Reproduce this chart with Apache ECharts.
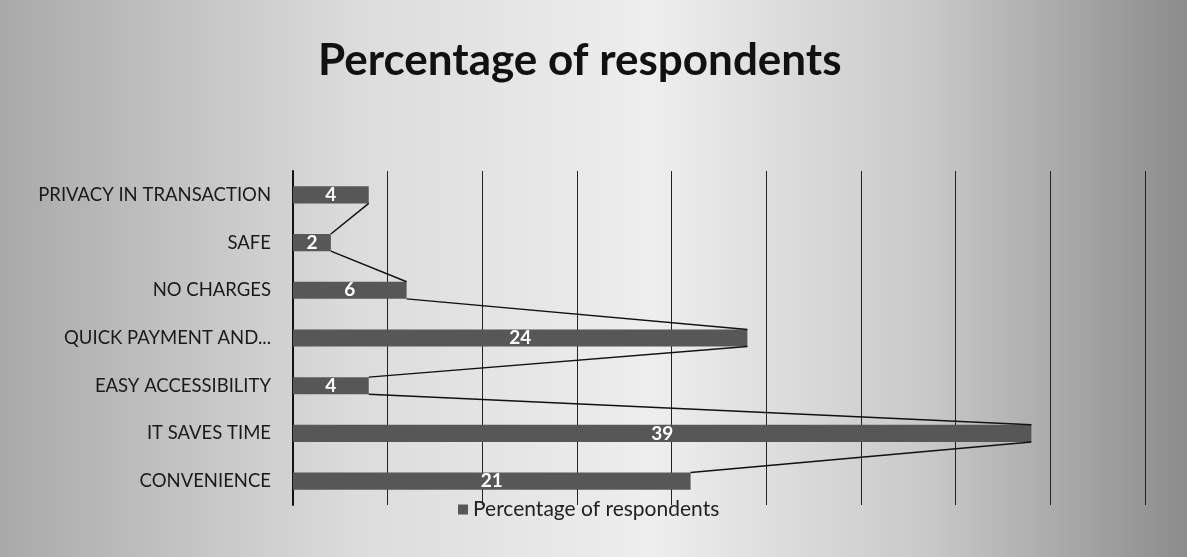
<!DOCTYPE html>
<html>
<head>
<meta charset="utf-8">
<script src="https://cdn.jsdelivr.net/npm/echarts@6/dist/echarts.min.js"></script>
<style>
html,body{margin:0;padding:0;}
#myChart{width:1187px;height:557px;}
</style>
</head>
<body>
<div id="myChart"></div>
<script>
var categories = ['PRIVACY IN TRANSACTION', 'SAFE', 'NO CHARGES', 'QUICK PAYMENT AND...', 'EASY ACCESSIBILITY', 'IT SAVES TIME', 'CONVENIENCE'];
var values = [4, 2, 6, 24, 4, 39, 21];
var seriesName = 'Percentage of respondents';

// connector between bar ends: [value, category index, next value]
var links = [];
for (var i = 0; i < values.length - 1; i++) {
  links.push([values[i], i, values[i + 1]]);
}

var barRatio = 0.36;

var option = {
  backgroundColor: {
    type: 'linear', x: 0, y: 0, x2: 1, y2: 0,
    colorStops: [
      {offset: 0, color: '#a9a9a9'},
      {offset: 0.3, color: '#dcdcdc'},
      {offset: 0.55, color: '#eeeeee'},
      {offset: 0.78, color: '#c9c9c9'},
      {offset: 1, color: '#8c8c8c'}
    ]
  },
  textStyle: {fontFamily: 'Lato'},
  title: {
    text: seriesName,
    left: 313,
    top: 34,
    textStyle: {fontSize: 44, fontWeight: 'bold', color: '#111', fontFamily: 'Lato'}
  },
  legend: {
    data: [seriesName],
    bottom: 32,
    left: 453,
    itemWidth: 10,
    itemHeight: 10,
    icon: 'rect',
    textStyle: {fontSize: 21, color: '#222'}
  },
  grid: {left: 293, right: 42, top: 171, height: 334},
  xAxis: {
    type: 'value',
    min: 0, max: 45, interval: 5,
    axisLabel: {show: false},
    axisLine: {show: false},
    axisTick: {show: false},
    splitLine: {lineStyle: {color: '#222', width: 1}}
  },
  yAxis: {
    type: 'category',
    data: categories,
    inverse: true,
    axisTick: {show: false},
    axisLine: {lineStyle: {color: '#111', width: 2}},
    axisLabel: {fontSize: 18.5, color: '#1a1a1a', margin: 22}
  },
  series: [
    {
      name: seriesName,
      type: 'bar',
      data: values,
      barWidth: (barRatio * 100) + '%',
      itemStyle: {color: '#575757'},
      label: {show: true, position: 'inside', color: '#fff', fontWeight: 'bold', fontSize: 19}
    },
    {
      name: 'connector',
      type: 'custom',
      silent: true,
      data: links,
      encode: {x: 0, y: 1},
      z: 3,
      renderItem: function (params, api) {
        var band = api.size([0, 1])[1];
        var half = band * barRatio / 2;
        var p1 = api.coord([api.value(0), api.value(1)]);
        var p2 = api.coord([api.value(2), api.value(1) + 1]);
        return {
          type: 'line',
          shape: {x1: p1[0], y1: p1[1] + half, x2: p2[0], y2: p2[1] - half},
          style: {stroke: '#111', lineWidth: 1.5}
        };
      }
    }
  ]
};

var myChart = echarts.init(document.getElementById('myChart'));
myChart.setOption(option);
</script>
</body>
</html>
